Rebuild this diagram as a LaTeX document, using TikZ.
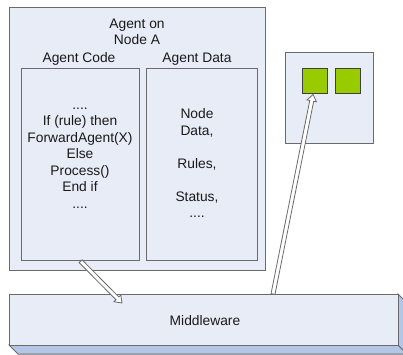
\documentclass[tikz,border=0pt]{standalone}
\usepackage{fontspec}
\setmainfont{Liberation Sans}
\usetikzlibrary{calc}
\definecolor{boxfill}{HTML}{E7ECF7}
\definecolor{boxline}{HTML}{6A6A6A}
\definecolor{depthfill}{HTML}{B3C6E5}
\definecolor{greenfill}{HTML}{99CC00}
\definecolor{textcol}{HTML}{1A1A1A}
\tikzset{
  panel/.style={draw=boxline, fill=boxfill, line width=1pt, inner sep=0pt},
  inner/.style={draw=boxline, fill=boxfill, line width=1.2pt, inner sep=0pt},
  chip/.style={draw=black!75, fill=greenfill, line width=1pt, minimum width=25pt, minimum height=25pt, inner sep=0pt},
  lbl/.style={inner sep=0pt, text=textcol, font=\fontsize{13.8}{16.5}\selectfont},
  block/.style={inner sep=0pt, align=center, text=textcol, font=\fontsize{13.8}{16.5}\selectfont},
  arrowline/.style={draw=boxline, fill=white, line width=0.8pt, line join=miter},
  depth/.style={fill=depthfill, draw=boxline, line width=1pt},
}
\newcommand\hollowarrow[2]{%
  \coordinate (ha-h) at ($(#2)!6.5pt!(#1)$);
  \filldraw[arrowline] ($(#1)!2pt!90:(#2)$) -- ($(ha-h)!2pt!-90:(#1)$)
    -- ($(ha-h)!4.8pt!-90:(#1)$) -- (#2) -- ($(ha-h)!4.8pt!90:(#1)$)
    -- ($(ha-h)!2pt!90:(#1)$) -- ($(#1)!2pt!-90:(#2)$) -- cycle;}
\begin{document}
\begin{tikzpicture}[x=1pt, y=-1pt]
\useasboundingbox (0,0) rectangle (403,354);
\fill[white] (0,0) rectangle (403,354);
% agent box
\node[panel, minimum width=256pt, minimum height=263pt, anchor=north west] (agent) at (9,7) {};
\node[block] (title) at (137,33) {\strut Agent on\\\strut Node A};
\node[lbl, anchor=base] (codelbl) at (79,62) {Agent Code};
\node[lbl, anchor=base] (datalbl) at (197,62) {Agent Data};
\node[inner, minimum width=118pt, minimum height=192pt, anchor=north west] (codebox) at (21,68) {};
\node[inner, minimum width=111pt, minimum height=192pt, anchor=north west] (databox) at (146,68) {};
\node[block] (codetext) at (80,155.5) {\strut ....\\\strut If (rule) then\\\strut ForwardAgent(X)\\\strut Else\\\strut Process()\\\strut End if\\\strut ....};
\node[block] (datatext) at (197,165) {\strut Node\\\strut Data,\\\strut \\\strut Rules,\\\strut \\\strut Status,\\\strut ....};
% node B
\node[panel, minimum width=88pt, minimum height=91pt, anchor=north west] (nodeb) at (285,52) {};
\node[chip] (sq1) at (314.5,80.5) {};
\node[chip] (sq2) at (347.5,80.5) {};
% middleware
\fill[depth] (9,345) -- (398,345) -- (407,354) -- (18,354) -- cycle;
\fill[depth] (398,294) -- (407,303) -- (407,354) -- (398,345) -- cycle;
\node[panel, minimum width=389pt, minimum height=51pt, anchor=north west] (mw) at (9,294) {};
\node[lbl, anchor=base] (mwlbl) at (205,325) {Middleware};
% arrows
\coordinate (a1e) at ($(mw.north west)+(113,9)$);
\hollowarrow{codebox.south}{a1e}
\coordinate (a2s) at ($(mw.north west)+(264,0)$);
\coordinate (a2e) at ($(sq1.south)+(-1.5,1)$);
\hollowarrow{a2s}{a2e}
\end{tikzpicture}
\end{document}
